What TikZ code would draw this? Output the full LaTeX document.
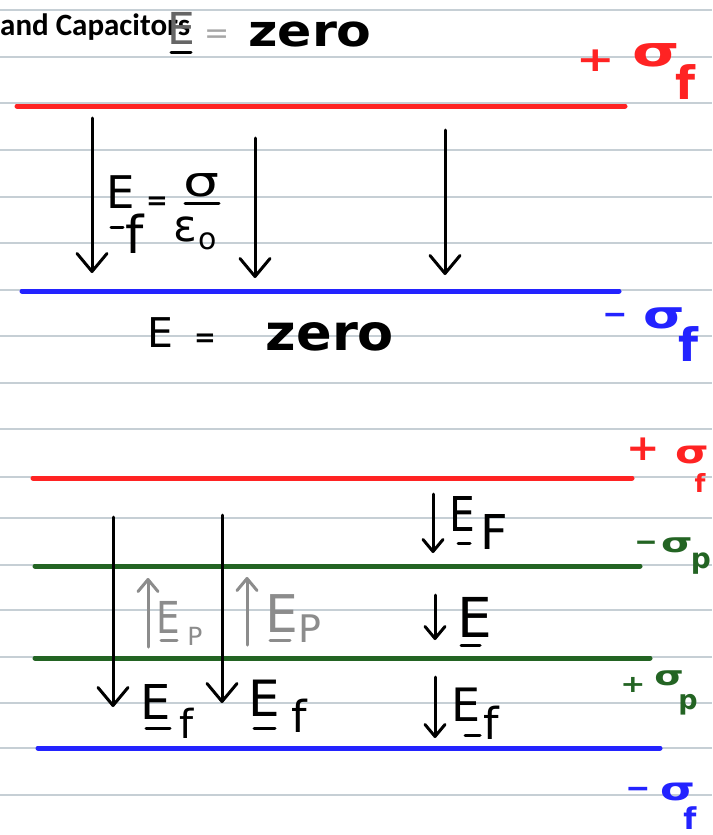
\documentclass[tikz,border=0pt]{standalone}
\usepackage{fontspec}
\setmainfont{DejaVu Sans}
\newfontfamily\titlefont{Carlito}
\usetikzlibrary{arrows.meta}
\definecolor{penred}{RGB}{255,35,35}
\definecolor{penblue}{RGB}{35,35,255}
\definecolor{pengreen}{RGB}{35,100,35}
\definecolor{pengray}{RGB}{140,140,140}
\definecolor{ruleline}{RGB}{198,207,213}
\newcommand\fsz[1]{\fontsize{#1}{#1}\selectfont}
\begin{document}
\begin{tikzpicture}[x=1pt,y=-1pt,
  rule/.style={draw=ruleline,line width=1.3pt},
  plate/.style={line width=5pt,line cap=round},
  field/.style={line width=3pt,line cap=round,-{Straight Barb[length=18pt,width=30pt,line cap=round,line join=round]}},
  smallfield/.style={line width=3pt,line cap=round,-{Straight Barb[length=12pt,width=20pt,line cap=round,line join=round]}},
  bar/.style={line width=3pt,line cap=round},
  hw/.style={inner sep=0pt,anchor=center},
]
\useasboundingbox (0,0) rectangle (712,835);
\fill[white] (0,0) rectangle (712,835);
% ruled paper
\foreach \yy in {10,57,103,150,197,243,290,336,383,429,477,518,565,610,657,703,748,795}
  \draw[rule] (0,\yy) -- (712,\yy);

% title
\node[anchor=base west,inner sep=0pt,font=\titlefont\bfseries\fsz{31}] (title) at (0,35) {and Capacitors};

% ---------- top capacitor ----------
\coordinate (r1a) at (17,106); \coordinate (r1b) at (625,106);
\coordinate (b1a) at (22,291); \coordinate (b1b) at (619,291);
\draw[plate,penred] (r1a) -- (r1b);
\draw[plate,penblue] (b1a) -- (b1b);

\coordinate (a1s) at (92,118); \coordinate (a1e) at (92,273);
\coordinate (a2s) at (255,138); \coordinate (a2e) at (255,278);
\coordinate (a3s) at (445,130); \coordinate (a3e) at (445,275);
\draw[field] (a1s) -- (a1e);
\draw[field] (a2s) -- (a2e);
\draw[field] (a3s) -- (a3e);

% E = zero (top)
\node[hw,text=black!60,font=\fsz{44}] (tE) at (181,28) {E};
\coordinate (tEu1) at (171,52); \coordinate (tEu2) at (191,52);
\draw[bar] (tEu1) -- (tEu2);
\node[hw,text=black!35,font=\fsz{30}] (tEq) at (217,37) {=};
\node[hw,font=\bfseries\fsz{44},xscale=1.15] (tZero) at (310,34) {zero};

% E_f = sigma / eps_0
\node[hw,font=\fsz{45}] (fE) at (121,192) {E};
\coordinate (fEu1) at (111,227); \coordinate (fEu2) at (123,227);
\draw[bar] (fEu1) -- (fEu2);
\node[hw,font=\fsz{52}] (ff) at (135,234) {f};
\node[hw,font=\bfseries\fsz{26}] (fEq) at (157,203) {=};
\node[hw,font=\fsz{42},xscale=1.35] (fSig) at (201,185) {σ};
\coordinate (fb1) at (185,203); \coordinate (fb2) at (219,203);
\draw[bar] (fb1) -- (fb2);
\node[hw,font=\fsz{44}] (fEps) at (185,229) {ε};
\node[hw,font=\fsz{30}] (fo) at (208,241) {o};

% E = zero (middle)
\node[hw,font=\fsz{41}] (mE) at (160,333) {E};
\node[hw,font=\bfseries\fsz{26}] (mEq) at (205,340) {=};
\node[hw,font=\bfseries\fsz{50},xscale=1.05] (mZero) at (330,337) {zero};

% right labels, top capacitor
\node[hw,text=penred,font=\bfseries\fsz{46},yscale=0.75] (l1p) at (596,61) {+};
\node[hw,text=penred,font=\bfseries\fsz{42},xscale=1.45] (l1s) at (656,55) {σ};
\node[hw,text=penred,font=\bfseries\fsz{46}] (l1f) at (685,82) {f};

\node[hw,text=penblue,font=\bfseries\fsz{30}] (l2m) at (615,319) {−};
\node[hw,text=penblue,font=\bfseries\fsz{38},xscale=1.4] (l2s) at (664,318) {σ};
\node[hw,text=penblue,font=\bfseries\fsz{46}] (l2f) at (688,344) {f};

% ---------- bottom capacitor with dielectric ----------
\coordinate (r2a) at (33,478); \coordinate (r2b) at (632,478);
\coordinate (g1a) at (35,566); \coordinate (g1b) at (640,566);
\coordinate (g2a) at (35,658); \coordinate (g2b) at (650,658);
\coordinate (b2a) at (38,748); \coordinate (b2b) at (660,748);
\draw[plate,penred] (r2a) -- (r2b);
\draw[plate,pengreen] (g1a) -- (g1b);
\draw[plate,pengreen] (g2a) -- (g2b);
\draw[plate,penblue] (b2a) -- (b2b);

% long free-charge field arrows
\coordinate (c1s) at (113,517); \coordinate (c1e) at (113,707);
\coordinate (c2s) at (222,515); \coordinate (c2e) at (222,703);
\draw[field] (c1s) -- (c1e);
\draw[field] (c2s) -- (c2e);

% polarization field arrows (up, gray)
\coordinate (p1s) at (148,647); \coordinate (p1e) at (148,578);
\coordinate (p2s) at (247,645); \coordinate (p2e) at (247,577);
\draw[smallfield,pengray] (p1s) -- (p1e);
\draw[smallfield,pengray] (p2s) -- (p2e);

% E_P labels (gray)
\node[hw,text=pengray,font=\fsz{44},xscale=0.85] (ep1E) at (168,617) {E};
\coordinate (ep1u1) at (161,640); \coordinate (ep1u2) at (177,640);
\draw[bar,pengray] (ep1u1) -- (ep1u2);
\node[hw,text=pengray,font=\fsz{25}] (ep1P) at (195,636) {P};
\node[hw,text=pengray,font=\fsz{52}] (ep2E) at (282,614) {E};
\coordinate (ep2u1) at (270,640); \coordinate (ep2u2) at (290,640);
\draw[bar,pengray] (ep2u1) -- (ep2u2);
\node[hw,text=pengray,font=\fsz{38}] (ep2P) at (310,629) {P};

% E_f labels (black)
\node[hw,font=\fsz{48}] (ef1E) at (156,702) {E};
\coordinate (ef1u1) at (146,728); \coordinate (ef1u2) at (170,728);
\draw[bar] (ef1u1) -- (ef1u2);
\node[hw,font=\fsz{40}] (ef1f) at (187,723) {f};
\node[hw,font=\fsz{50}] (ef2E) at (264,698) {E};
\coordinate (ef2u1) at (254,728); \coordinate (ef2u2) at (275,728);
\draw[bar] (ef2u1) -- (ef2u2);
\node[hw,font=\fsz{44}] (ef2f) at (299,716) {f};

% right column: small arrows with labels
\coordinate (s1s) at (433,494); \coordinate (s1e) at (433,553);
\coordinate (s2s) at (435,595); \coordinate (s2e) at (435,640);
\coordinate (s3s) at (435,677); \coordinate (s3e) at (435,738);
\draw[smallfield] (s1s) -- (s1e);
\draw[smallfield] (s2s) -- (s2e);
\draw[smallfield] (s3s) -- (s3e);

\node[hw,font=\fsz{48},xscale=0.85] (rE1) at (462,514) {E};
\coordinate (rE1u1) at (458,543); \coordinate (rE1u2) at (470,543);
\draw[bar] (rE1u1) -- (rE1u2);
\node[hw,font=\fsz{48}] (rF1) at (494,532) {F};

\node[hw,font=\fsz{55}] (rE2) at (475,617) {E};
\coordinate (rE2u1) at (461,645); \coordinate (rE2u2) at (480,645);
\draw[bar] (rE2u1) -- (rE2u2);

\node[hw,font=\fsz{46}] (rE3) at (466,705) {E};
\coordinate (rE3u1) at (465,735); \coordinate (rE3u2) at (480,735);
\draw[bar] (rE3u1) -- (rE3u2);
\node[hw,font=\fsz{44}] (rf3) at (491,723) {f};

% right labels, bottom capacitor
\node[hw,text=penred,font=\bfseries\fsz{40},yscale=0.9] (l3p) at (643,449) {+};
\node[hw,text=penred,font=\bfseries\fsz{32},xscale=1.35] (l3s) at (692,455) {σ};
\node[hw,text=penred,font=\bfseries\fsz{25}] (l3f) at (700,483) {f};

\node[hw,text=pengreen,font=\bfseries\fsz{28}] (l4m) at (646,546) {−};
\node[hw,text=pengreen,font=\bfseries\fsz{27},xscale=1.5] (l4s) at (677,545) {σ};
\node[hw,text=pengreen,font=\bfseries\fsz{28}] (l4p) at (701,564) {p};

\node[hw,text=pengreen,font=\bfseries\fsz{30},yscale=0.8] (l5p) at (633,685) {+};
\node[hw,text=pengreen,font=\bfseries\fsz{27},xscale=1.4] (l5s) at (669,678) {σ};
\node[hw,text=pengreen,font=\bfseries\fsz{27}] (l5pp) at (688,705) {p};

\node[hw,text=penblue,font=\bfseries\fsz{30}] (l6m) at (638,793) {−};
\node[hw,text=penblue,font=\bfseries\fsz{32},xscale=1.4] (l6s) at (678,792) {σ};
\node[hw,text=penblue,font=\bfseries\fsz{30}] (l6f) at (690,818) {f};
\end{tikzpicture}
\end{document}
